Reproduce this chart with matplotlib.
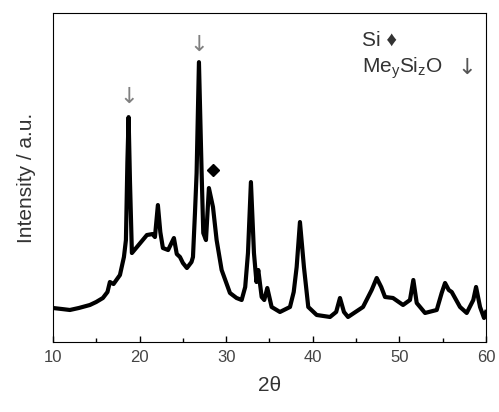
import matplotlib
matplotlib.use("Agg")
import matplotlib.pyplot as plt
from matplotlib.ticker import MultipleLocator, NullLocator

plt.rcParams['font.family'] = ['Liberation Sans', 'DejaVu Sans']
plt.rcParams['mathtext.fontset'] = 'custom'
plt.rcParams['mathtext.rm'] = 'Liberation Sans'
plt.rcParams['mathtext.it'] = 'Liberation Sans'

# XRD pattern (2theta in degrees, intensity in a.u.)
two_theta = [10.0, 11.0, 11.96, 13.0, 14.27, 15.0, 15.77, 16.3, 16.58, 17.0,
             17.74, 18.2, 18.43, 18.6, 18.74, 18.9, 19.12, 19.7, 20.85, 21.5,
             21.78, 22.12, 22.4, 22.7, 23.3, 23.97, 24.3, 24.67, 25.01, 25.47,
             26.0, 26.17, 26.4, 26.59, 26.86, 27.17, 27.36, 27.67, 28.01, 28.48,
             28.9, 29.48, 30.44, 31.2, 31.79, 32.2, 32.52, 32.86, 33.21, 33.5,
             33.71, 34.1, 34.4, 34.75, 35.25, 36.21, 37.37, 37.8, 38.14, 38.52,
             38.98, 39.48, 40.45, 41.99, 42.7, 43.14, 43.6, 44.07, 45.8, 46.8,
             47.38, 47.9, 48.34, 49.26, 50.42, 51.22, 51.61, 52.0, 52.96, 54.31,
             54.88, 55.27, 55.7, 56.04, 57.0, 57.77, 58.53, 58.85, 59.31, 59.77,
             60.0]
intensity = [34, 33, 32, 34, 37, 40, 44, 50, 60, 58,
             67, 85, 102, 180, 225, 160, 89, 95, 107, 108,
             105, 137, 110, 94, 92, 104, 88, 85, 79, 74,
             80, 85, 129, 169, 280, 169, 109, 102, 154, 135,
             102, 72, 49, 44, 42, 55, 89, 160, 89, 60,
             72, 45, 42, 54, 35, 30, 35, 50, 75, 120,
             75, 35, 27, 25, 30, 44, 30, 25, 35, 52,
             64, 55, 45, 44, 37, 42, 62, 39, 29, 32,
             49, 59, 52, 50, 35, 29, 42, 55, 35, 24,
             30]

# phase markers
mesio_peaks = [18.74, 26.86]
mesio_heights = [245, 297]
si_peak = 28.48
si_height = 172

fig = plt.figure(figsize=(4.99, 4.12), dpi=100)
ax = fig.add_axes([0.106, 0.170, 0.868, 0.798])

ax.plot(two_theta, intensity, color='black', linewidth=3.0)

for x, h in zip(mesio_peaks, mesio_heights):
    ax.text(x, h, '\u2193', color='#808080', fontsize=16, ha='center', va='center',
            family=['DejaVu Sans'])
ax.plot([si_peak], [si_height], marker='D', markersize=6.5, color='black', linestyle='none')

ax.text(0.714, 0.918, 'Si \u2666', transform=ax.transAxes, fontsize=15,
        color='#333333', ha='left', va='center', family=['Liberation Sans', 'DejaVu Sans'])
ax.text(0.714, 0.833, r'Me$_\mathregular{y}$Si$_\mathregular{z}$O',
        transform=ax.transAxes, fontsize=15, color='#333333', ha='left', va='center')
ax.text(0.955, 0.833, '\u2193', transform=ax.transAxes, fontsize=16,
        color='#555555', ha='center', va='center', family=['DejaVu Sans'])

ax.set_xlim(10, 60)
ax.set_ylim(0, 329)
ax.xaxis.set_major_locator(MultipleLocator(10))
ax.xaxis.set_minor_locator(MultipleLocator(5))
ax.yaxis.set_major_locator(NullLocator())
ax.tick_params(axis='x', which='both', direction='in', labelsize=12,
               labelcolor='#444444', pad=6)
ax.tick_params(axis='x', which='major', length=4, width=1)
ax.tick_params(axis='x', which='minor', length=3, width=1)

ax.set_xlabel('2\u03b8', fontsize=15, color='#333333', labelpad=8)
ax.set_ylabel('Intensity / a.u.', fontsize=15, color='#333333', labelpad=12)

fig.savefig('out.png', dpi=100)
